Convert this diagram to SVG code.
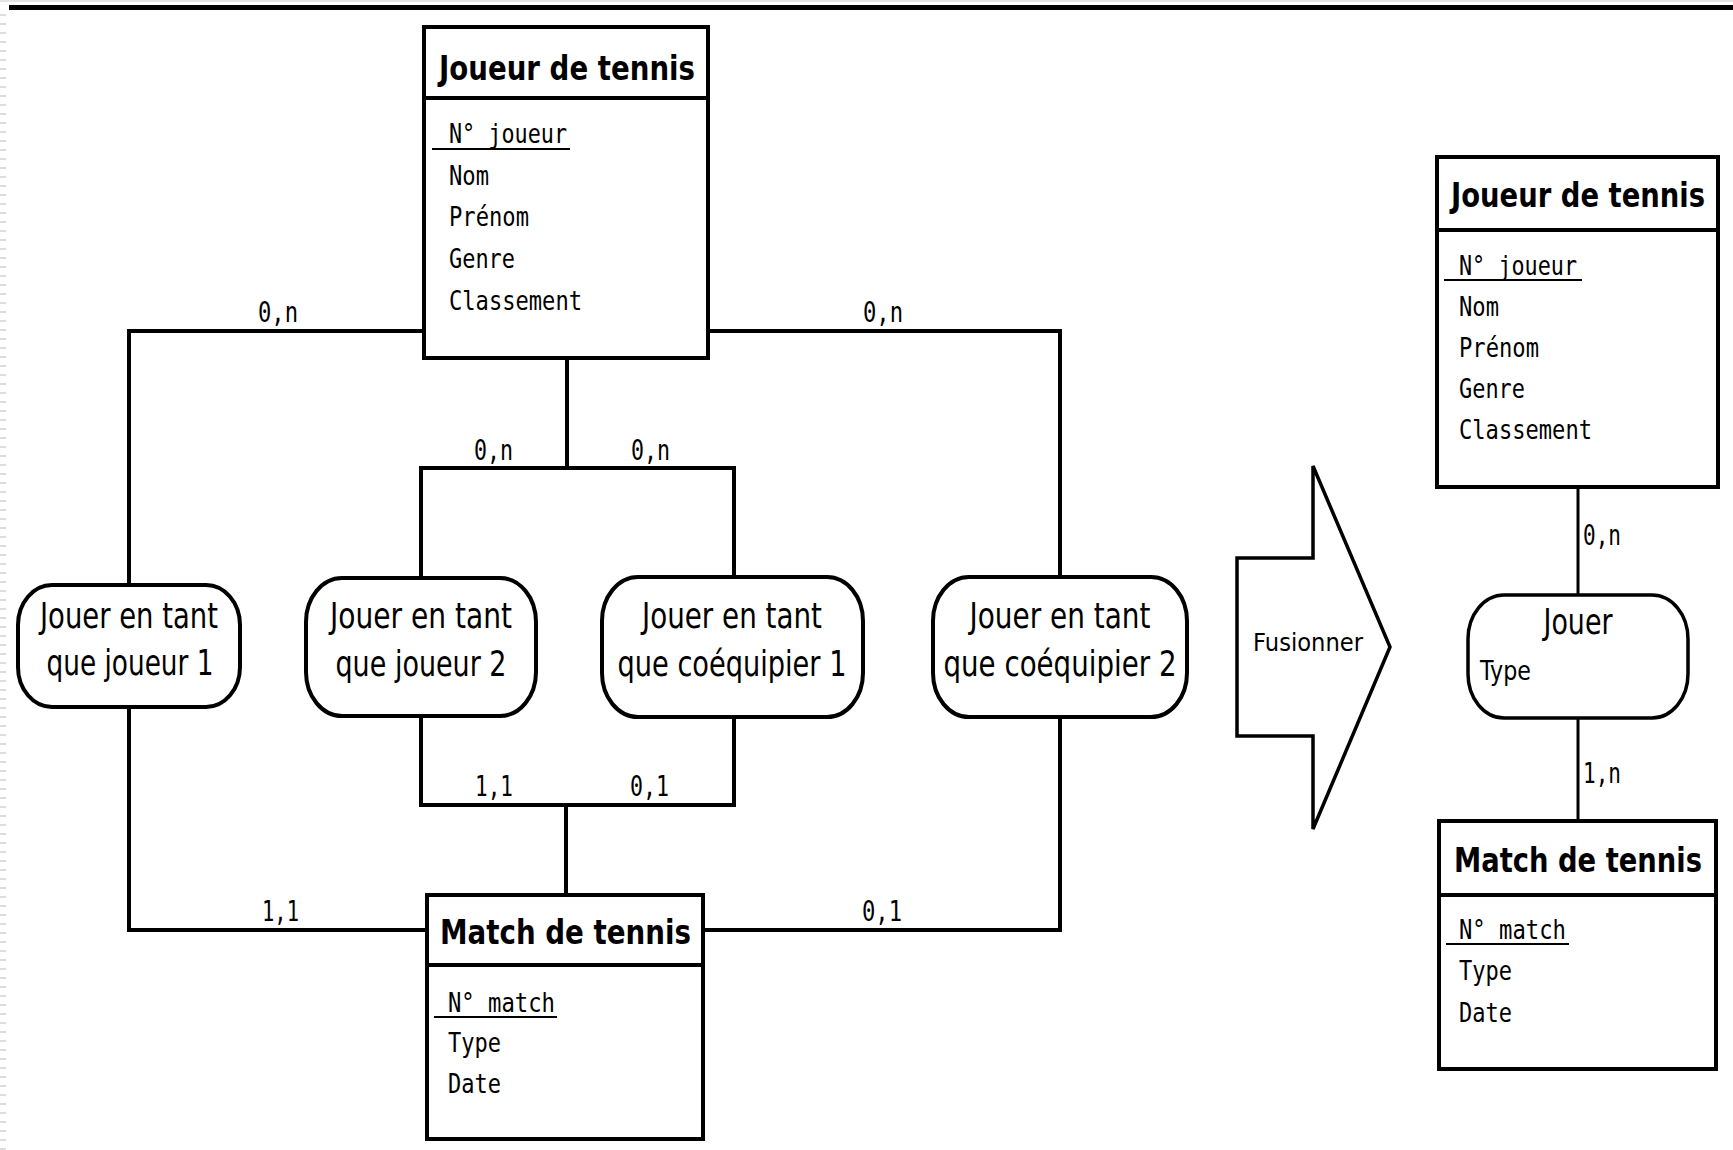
<svg xmlns="http://www.w3.org/2000/svg" width="1733" height="1150" viewBox="0 0 1733 1150">
<style>
.box{fill:#fff;stroke:#000;stroke-width:4}
.rel{fill:#fff;stroke:#000;stroke-width:4}
.conn{fill:none;stroke:#000;stroke-width:4}
.thin{fill:none;stroke:#000;stroke-width:3}
.title{font-family:"DejaVu Sans","Liberation Sans",sans-serif;font-weight:bold;font-size:34px;fill:#000}
.attr{font-family:"DejaVu Sans Mono","Liberation Mono",monospace;font-size:27px;fill:#000}
.card{font-family:"DejaVu Sans Mono","Liberation Mono",monospace;font-size:28px;fill:#000}
.rtxt{font-family:"DejaVu Sans","Liberation Sans",sans-serif;font-size:36px;fill:#000;text-anchor:middle}
.ul{stroke:#000;stroke-width:2}
</style>
<rect x="0" y="0" width="1733" height="1150" fill="#fff"/>
<line x1="0" y1="1" x2="1733" y2="1" stroke="#e4e4e4" stroke-width="2"/>
<rect x="9" y="5" width="1724" height="5" fill="#000"/>
<line x1="3" y1="14" x2="3" y2="1150" stroke="#dcdcdc" stroke-width="6" stroke-dasharray="2 7"/>

<g id="connectors">
<path class="conn" d="M424,331 H129 V585"/>
<path class="conn" d="M129,707 V930 H427"/>
<path class="conn" d="M708,331 H1060 V577"/>
<path class="conn" d="M1060,717 V930 H703"/>
<path class="conn" d="M567,358 V468"/>
<path class="conn" d="M421,578 V468 H734 V577"/>
<path class="conn" d="M421,716 V805 H734 V717"/>
<path class="conn" d="M566,805 V895"/>
<path class="thin" d="M1578,487 V595"/>
<path class="thin" d="M1578,718 V821"/>
<text class="card" x="258" y="322" textLength="40" lengthAdjust="spacingAndGlyphs">0,n</text>
<text class="card" x="863" y="322" textLength="40" lengthAdjust="spacingAndGlyphs">0,n</text>
<text class="card" x="474" y="460" textLength="39" lengthAdjust="spacingAndGlyphs">0,n</text>
<text class="card" x="631" y="460" textLength="39" lengthAdjust="spacingAndGlyphs">0,n</text>
<text class="card" x="475" y="796" textLength="38" lengthAdjust="spacingAndGlyphs">1,1</text>
<text class="card" x="630" y="796" textLength="39" lengthAdjust="spacingAndGlyphs">0,1</text>
<text class="card" x="262" y="921" textLength="37" lengthAdjust="spacingAndGlyphs">1,1</text>
<text class="card" x="862" y="921" textLength="40" lengthAdjust="spacingAndGlyphs">0,1</text>
<text class="card" x="1583" y="545" textLength="38" lengthAdjust="spacingAndGlyphs">0,n</text>
<text class="card" x="1583" y="783" textLength="38" lengthAdjust="spacingAndGlyphs">1,n</text>
</g>

<g id="joueur-left">
<rect class="box" x="424" y="27" width="284" height="331"/>
<line class="conn" x1="424" y1="98" x2="708" y2="98"/>
<text class="title" x="439" y="80" textLength="256" lengthAdjust="spacingAndGlyphs">Joueur de tennis</text>
<text class="attr" x="449" y="143" textLength="118" lengthAdjust="spacingAndGlyphs">N° joueur</text>
<line class="ul" x1="432" y1="149" x2="570" y2="149"/>
<text class="attr" x="449" y="185" textLength="40" lengthAdjust="spacingAndGlyphs">Nom</text>
<text class="attr" x="449" y="226" textLength="80" lengthAdjust="spacingAndGlyphs">Prénom</text>
<text class="attr" x="449" y="268" textLength="66" lengthAdjust="spacingAndGlyphs">Genre</text>
<text class="attr" x="449" y="310" textLength="133" lengthAdjust="spacingAndGlyphs">Classement</text>
</g>

<g id="match-left">
<rect class="box" x="427" y="895" width="276" height="244"/>
<line class="conn" x1="427" y1="965" x2="703" y2="965"/>
<text class="title" x="440" y="944" textLength="251" lengthAdjust="spacingAndGlyphs">Match de tennis</text>
<text class="attr" x="448" y="1012" textLength="107" lengthAdjust="spacingAndGlyphs">N° match</text>
<line class="ul" x1="434" y1="1017" x2="557" y2="1017"/>
<text class="attr" x="448" y="1052" textLength="53" lengthAdjust="spacingAndGlyphs">Type</text>
<text class="attr" x="448" y="1093" textLength="53" lengthAdjust="spacingAndGlyphs">Date</text>
</g>

<g id="rel-joueur1">
<rect class="rel" x="18" y="585" width="222" height="122" rx="34" ry="40"/>
<text class="rtxt" x="129" y="628" textLength="178" lengthAdjust="spacingAndGlyphs">Jouer en tant</text>
<text class="rtxt" x="130" y="675" textLength="167" lengthAdjust="spacingAndGlyphs">que joueur 1</text>
</g>

<g id="rel-joueur2">
<rect class="rel" x="306" y="578" width="230" height="138" rx="36" ry="44"/>
<text class="rtxt" x="421" y="628" textLength="182" lengthAdjust="spacingAndGlyphs">Jouer en tant</text>
<text class="rtxt" x="421" y="676" textLength="171" lengthAdjust="spacingAndGlyphs">que joueur 2</text>
</g>

<g id="rel-coequipier1">
<rect class="rel" x="602" y="577" width="261" height="140" rx="36" ry="44"/>
<text class="rtxt" x="732" y="628" textLength="180" lengthAdjust="spacingAndGlyphs">Jouer en tant</text>
<text class="rtxt" x="732" y="676" textLength="229" lengthAdjust="spacingAndGlyphs">que coéquipier 1</text>
</g>

<g id="rel-coequipier2">
<rect class="rel" x="933" y="577" width="254" height="140" rx="36" ry="44"/>
<text class="rtxt" x="1060" y="628" textLength="181" lengthAdjust="spacingAndGlyphs">Jouer en tant</text>
<text class="rtxt" x="1060" y="676" textLength="233" lengthAdjust="spacingAndGlyphs">que coéquipier 2</text>
</g>

<g id="fusionner">
<path d="M1237,558 H1313 V466 L1390,647 L1313,829 V736 H1237 Z" fill="#fff" stroke="#000" stroke-width="3.5" stroke-linejoin="miter"/>
<text x="1253" y="651" font-family="DejaVu Sans, Liberation Sans, sans-serif" font-size="24" textLength="110" lengthAdjust="spacingAndGlyphs">Fusionner</text>
</g>

<g id="joueur-right">
<rect class="box" x="1437" y="157" width="281" height="330"/>
<line class="conn" x1="1437" y1="230" x2="1718" y2="230"/>
<text class="title" x="1451" y="207" textLength="254" lengthAdjust="spacingAndGlyphs">Joueur de tennis</text>
<text class="attr" x="1459" y="275" textLength="118" lengthAdjust="spacingAndGlyphs">N° joueur</text>
<line class="ul" x1="1444" y1="280" x2="1582" y2="280"/>
<text class="attr" x="1459" y="316" textLength="40" lengthAdjust="spacingAndGlyphs">Nom</text>
<text class="attr" x="1459" y="357" textLength="80" lengthAdjust="spacingAndGlyphs">Prénom</text>
<text class="attr" x="1459" y="398" textLength="66" lengthAdjust="spacingAndGlyphs">Genre</text>
<text class="attr" x="1459" y="439" textLength="133" lengthAdjust="spacingAndGlyphs">Classement</text>
</g>

<g id="jouer">
<rect x="1468" y="595" width="220" height="123" rx="36" ry="44" fill="#fff" stroke="#000" stroke-width="3.5"/>
<text class="rtxt" x="1578" y="634" font-size="34" textLength="69" lengthAdjust="spacingAndGlyphs">Jouer</text>
<text x="1480" y="680" font-family="DejaVu Sans, Liberation Sans, sans-serif" font-size="27" textLength="51" lengthAdjust="spacingAndGlyphs">Type</text>
</g>

<g id="match-right">
<rect class="box" x="1439" y="821" width="277" height="248"/>
<line class="conn" x1="1439" y1="895" x2="1716" y2="895"/>
<text class="title" x="1454" y="872" textLength="248" lengthAdjust="spacingAndGlyphs">Match de tennis</text>
<text class="attr" x="1459" y="939" textLength="107" lengthAdjust="spacingAndGlyphs">N° match</text>
<line class="ul" x1="1446" y1="944" x2="1569" y2="944"/>
<text class="attr" x="1459" y="980" textLength="53" lengthAdjust="spacingAndGlyphs">Type</text>
<text class="attr" x="1459" y="1022" textLength="53" lengthAdjust="spacingAndGlyphs">Date</text>
</g>
</svg>
